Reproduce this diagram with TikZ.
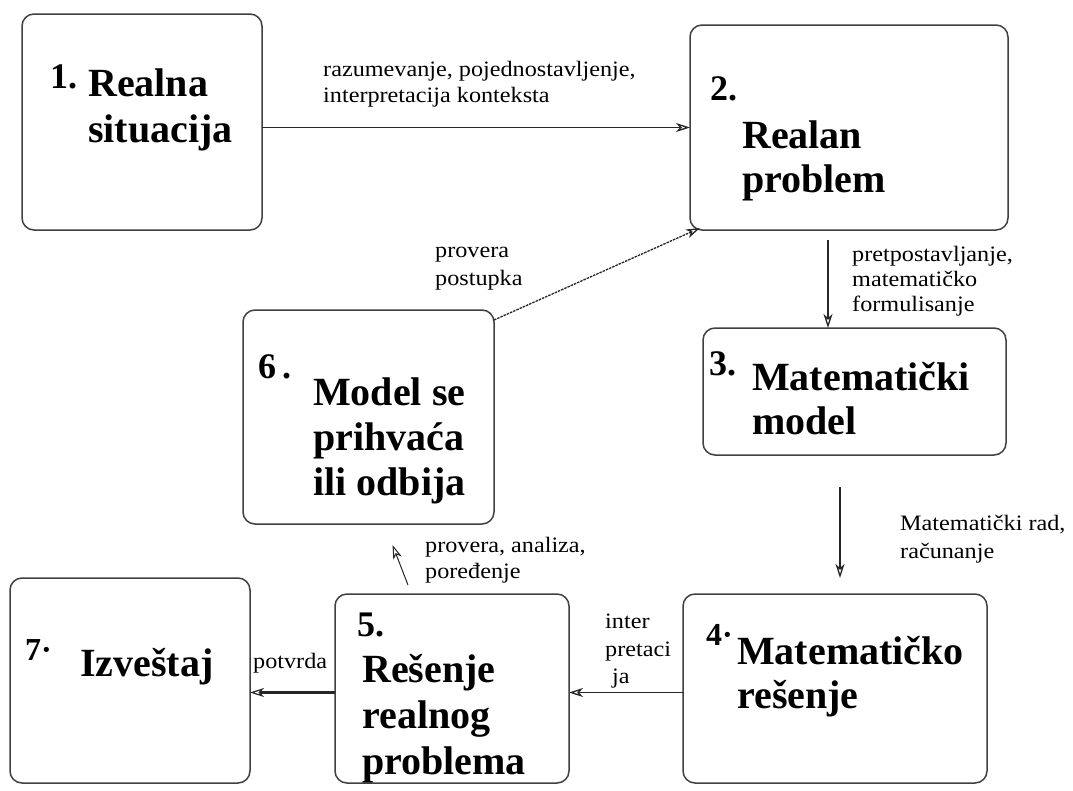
\documentclass[tikz,border=0pt]{standalone}
\usepackage{fontspec}
\setmainfont{Liberation Serif}
\newfontfamily\lblfont[FakeStretch=1.1]{Liberation Serif}
\usetikzlibrary{arrows.meta}
\begin{document}
\begin{tikzpicture}[x=1pt,y=-1pt,
  box/.style={draw=black!75, line width=1.5pt, rounded corners=12pt, inner sep=0pt, outer sep=0pt},
  big/.style={font=\fontsize{40}{46}\selectfont\bfseries, anchor=base west, inner sep=0pt},
  num/.style={font=\fontsize{36}{40}\selectfont\bfseries, anchor=base west, inner sep=0pt},
  lbl/.style={font=\lblfont\fontsize{22}{26}\selectfont, anchor=base west, inner sep=0pt},
  arr/.style={draw=black!85, line width=1.3pt, -{Stealth[open, length=14pt, width=9pt, inset=4pt]}}]
\useasboundingbox (0,0) rectangle (1073,790);
\fill[white] (0,0) rectangle (1073,790);

% boxes
\node[box, minimum width=240pt, minimum height=216pt] (b1) at (142,122) {};
\node[box, minimum width=318pt, minimum height=205pt] (b2) at (849,127.5) {};
\node[box, minimum width=303pt, minimum height=127pt] (b3) at (854.5,391.5) {};
\node[box, minimum width=304pt, minimum height=189pt] (b4) at (835,688.5) {};
\node[box, minimum width=234pt, minimum height=189pt] (b5) at (452,688.5) {};
\node[box, minimum width=251pt, minimum height=214pt] (b6) at (368.5,417) {};
\node[box, minimum width=240pt, minimum height=205pt] (b7) at (130,680.5) {};

% box texts
\node[num] (n1) at (50,88) {1.};
\node[big] (t1a) at (88,96) {Realna};
\node[big] (t1b) at (88,142) {situacija};

\node[num] (n2) at (710,100) {2.};
\node[big] (t2a) at (742,148) {Realan};
\node[big] (t2b) at (742,192) {problem};

\node[num] (n3) at (709,375) {3.};
\node[big] (t3a) at (752,390) {Matematički};
\node[big] (t3b) at (752,434) {model};

\node[num, font=\fontsize{32}{36}\selectfont\bfseries] (n4) at (706,645) {4·};
\node[big] (t4a) at (737,664) {Matematičko};
\node[big] (t4b) at (737,708) {rešenje};

\node[num] (n5) at (357,636) {5.};
\node[big] (t5a) at (362,682) {Rešenje};
\node[big] (t5b) at (362,728) {realnog};
\node[big] (t5c) at (362,774) {problema};

\node[num] (n6) at (258,378) {6\,.};
\node[big] (t6a) at (313,405) {Model se};
\node[big] (t6b) at (313,450) {prihvaća};
\node[big] (t6c) at (313,495) {ili odbija};

\node[num, font=\fontsize{32}{36}\selectfont\bfseries] (n7) at (25,660) {7·};
\node[big] (t7a) at (80,676) {Izveštaj};

% connector labels
\node[lbl] (l12a) at (323,76) {razumevanje, pojednostavljenje,};
\node[lbl] (l12b) at (323,102) {interpretacija konteksta};
\node[lbl] (l62a) at (435,257) {provera};
\node[lbl] (l62b) at (435,285) {postupka};
\node[lbl] (l23a) at (852,261) {pretpostavljanje,};
\node[lbl] (l23b) at (852,286) {matematičko};
\node[lbl] (l23c) at (852,311) {formulisanje};
\node[lbl] (l34a) at (900,530) {Matematički rad,};
\node[lbl] (l34b) at (900,558) {računanje};
\node[lbl] (l56a) at (425,552) {provera, analiza,};
\node[lbl] (l56b) at (425,578) {poređenje};
\node[lbl] (l45a) at (605,628) {inter};
\node[lbl] (l45b) at (605,656) {pretaci};
\node[lbl] (l45c) at (612,683) {ja};
\node[lbl] (l57) at (253,668) {potvrda};

% connectors
\draw[arr] (b1.east |- b2.west) -- (b2.west);
\coordinate (a23) at ([xshift=-21pt,yshift=-10pt]b2.south);
\draw[arr] (a23) -- (a23 |- b3.north);
\coordinate (a34) at ([xshift=-14.5pt,yshift=-32pt]b3.south);
\draw[arr, shorten >=16pt] (a34) -- (a34 |- b4.north);
\draw[arr] ([yshift=-4pt]b4.west) -- ([yshift=-4pt]b4.west -| b5.east);
\draw[arr, line width=2.2pt, -{Stealth[open, length=14pt, width=9pt, inset=4pt, line width=1.2pt]}] ([yshift=-4pt]b5.west) -- ([yshift=-4pt]b5.west -| b7.east);
\draw[arr, line width=1pt] ([xshift=-44pt,yshift=9pt]b5.north) -- ([xshift=24pt,yshift=-21pt]b6.south);
\draw[arr, dash pattern=on 2.5pt off 1pt] ([yshift=-10pt]b6.north east) -- ([xshift=10pt,yshift=2pt]b2.south west);
\end{tikzpicture}
\end{document}
